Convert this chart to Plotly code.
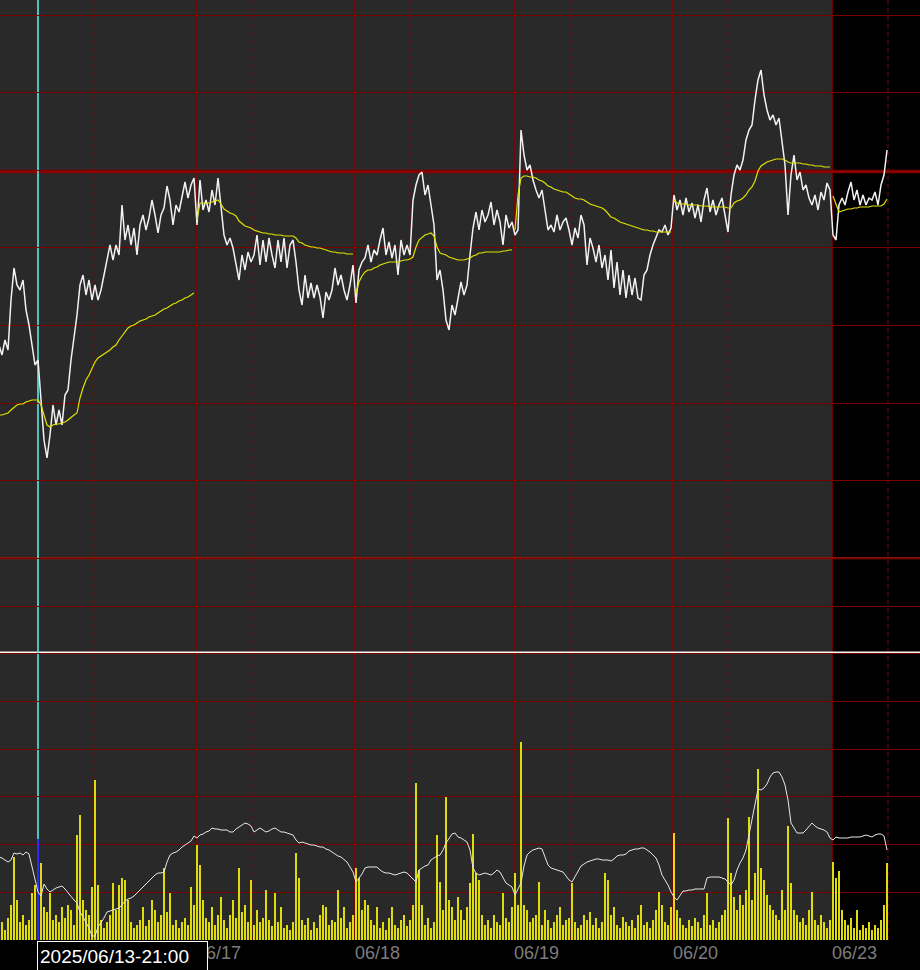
import plotly.graph_objects as go

# ---------------- data (one value per bar; bar index 0 = cursor bar) ----------------
FIRST_BAR = -13

price = [
    355, 345, 360, 350, 400, 432, 415, 410, 420, 390,
    375, 355, 335, 340, 300, 260, 242, 265, 295, 275,
    290, 275, 305, 310, 340, 360, 385, 415, 425, 405,
    420, 400, 415, 400, 410, 425, 440, 455, 440, 455,
    445, 495, 460, 475, 455, 472, 445, 475, 485, 470,
    482, 500, 485, 467, 485, 492, 514, 500, 475, 495,
    488, 505, 518, 502, 515, 522, 475, 520, 490, 500,
    488, 510, 495, 522, 490, 465, 455, 462, 452, 435,
    420, 445, 430, 448, 438, 445, 465, 435, 460, 438,
    462, 445, 432, 460, 438, 462, 432, 455, 460, 438,
    410, 395, 425, 402, 417, 402, 415, 403, 382, 408,
    400, 410, 432, 415, 425, 410, 400, 415, 435, 397,
    430, 438, 442, 455, 438, 450, 445, 460, 472, 445,
    458, 442, 455, 425, 460, 445, 455, 445, 500, 515,
    525, 528, 505, 515, 495, 475, 420, 430, 410, 380,
    370, 395, 385, 400, 418, 405, 415, 445, 472, 488,
    470, 490, 478, 485, 498, 475, 490, 478, 455, 485,
    472, 478, 465, 470, 570, 545, 530, 535, 520, 510,
    502, 510, 490, 470, 475, 468, 485, 470, 478, 482,
    470, 455, 472, 462, 485, 475, 435, 462, 452, 438,
    455, 432, 445, 420, 450, 412, 438, 405, 430, 402,
    425, 405, 422, 402, 400, 425, 430, 445, 455, 462,
    470, 468, 475, 465, 472, 505, 490, 500, 485, 502,
    488, 497, 482, 495, 478, 500, 512, 488, 500, 485,
    495, 502, 485, 468, 505, 525, 535, 530, 540, 560,
    570, 575, 600, 620, 630, 605, 590, 580, 585, 575,
    582, 560, 535, 485, 525, 545, 520, 528, 510, 515,
    502, 495, 505, 490, 508, 500, 517, 510, 465, 460,
    495, 502, 495, 508, 518, 500, 510, 495, 505, 495,
    502, 500, 508, 495, 515, 525, 550,
]

# session VWAP (resets at each session start)
vwap = [
    285, 285, 286, 287, 290, 293, 295, 296, 296, 298,
    299, 300, 300, 300, 295, 285, 275, 273, 275, 276,
    276, 277, 278, 280, 283, 285, 287, 302, 312, 320,
    325, 332, 338, 342, 344, 346, 348, 350, 353, 355,
    360, 364, 369, 372, 374, 375, 377, 379, 380, 381,
    383, 384, 385, 387, 389, 391, 392, 394, 396, 397,
    399, 400, 402, 403, 405, 407,
    480, 497, 497, 497, 497, 498, 499, 500, 496, 491,
    489, 487, 486, 484, 479, 476, 474, 473, 472, 470,
    469, 468, 467, 467, 466, 466, 465, 465, 465, 464,
    464, 464, 464, 462, 458, 457, 455, 454, 453, 453,
    452, 452, 451, 450, 449, 448, 448, 447, 447, 447,
    446, 446, 446,
    407, 418, 424, 428, 430, 430, 432, 433, 435, 436,
    437, 438, 438, 438, 438, 439, 440, 440, 441, 443,
    453, 460, 463, 465, 466, 467, 464, 453, 447, 446,
    445, 443, 442, 441, 440, 440, 440, 441, 442, 444,
    445, 447, 447, 448, 448, 448, 448, 448, 448, 449,
    449, 450, 450,
    470, 505, 522, 524, 524, 523, 523, 522, 520, 519,
    517, 514, 513, 511, 510, 509, 508, 508, 506, 504,
    502, 501, 501, 500, 498, 496, 495, 494, 493, 492,
    490, 486, 483, 482, 480, 478, 477, 476, 475, 474,
    473, 472, 471, 470, 470, 469, 469, 468, 468, 468,
    468, 468, 468,
    500, 497, 496, 496, 496, 495, 495, 495, 495, 494,
    494, 494, 493, 493, 493, 493, 493, 493, 492, 492,
    497, 499, 500, 502, 505, 510, 513, 519, 529, 534,
    536, 538, 539, 540, 541, 541, 541, 540, 538, 537,
    537, 537, 537, 536, 536, 535, 535, 534, 534, 534,
    533, 533, 533,
    504, 495, 488, 489, 490, 491, 491, 492, 492, 493,
    493, 493, 493, 494, 494, 494, 494, 496, 501,
]

volume = [
    12, 18, 10, 22, 35, 83, 40, 18, 25, 15,
    20, 47, 55, 101, 77, 33, 28, 47, 20, 25,
    18, 33, 22, 35, 30, 15, 105, 125, 40, 30,
    25, 53, 160, 55, 20, 12, 18, 25, 57, 30,
    55, 62, 60, 40, 18, 12, 15, 20, 33, 14,
    20, 40, 30, 18, 25, 72, 28, 47, 15, 20,
    12, 18, 22, 15, 53, 35, 95, 75, 40, 22,
    18, 33, 15, 25, 43, 20, 12, 25, 40, 22,
    72, 28, 35, 18, 60, 15, 30, 18, 22, 50,
    20, 14, 47, 18, 33, 12, 15, 10, 18, 87,
    62, 20, 15, 22, 10, 18, 12, 25, 35, 33,
    15, 20, 18, 50, 22, 33, 12, 18, 25, 72,
    62, 30, 40, 35, 20, 15, 33, 12, 18, 10,
    22, 33, 15, 12, 20, 25, 14, 20, 35, 157,
    70, 35, 15, 22, 12, 18, 105, 58, 30, 143,
    40, 33, 20, 43, 30, 20, 33, 57, 106, 67,
    60, 25, 15, 20, 12, 25, 18, 15, 47, 22,
    18, 33, 67, 35, 198, 35, 30, 18, 22, 25,
    58, 15, 30, 20, 12, 18, 25, 33, 15, 20,
    22, 57, 18, 12, 15, 25, 20, 28, 15, 22,
    12, 18, 67, 60, 25, 33, 15, 12, 23, 18,
    14, 20, 12, 25, 35, 15, 18, 12, 20, 30,
    48, 35, 18, 15, 33, 107, 30, 22, 15, 12,
    20, 14, 22, 18, 12, 25, 47, 15, 20, 12,
    18, 25, 30, 122, 67, 43, 30, 45, 35, 50,
    123, 40, 67, 171, 72, 60, 45, 35, 30, 25,
    20, 50, 30, 114, 57, 30, 25, 18, 22, 15,
    30, 48, 20, 15, 25, 18, 12, 20, 78, 62,
    69, 30, 20, 15, 22, 12, 30, 10, 15, 12,
    18, 10, 15, 12, 20, 35, 77,
]

volume_line = [
    83, 82, 80, 78, 80, 87, 86, 87, 85, 88,
    86, 74, 62, 48, 44, 56, 51, 48, 50, 52,
    53, 54, 51, 47, 44, 40, 37, 28, 23, 18,
    12, 4, 4, 13, 17, 22, 28, 29, 30, 31,
    32, 35, 39, 41, 42, 44, 47, 50, 53, 56,
    60, 63, 65, 67, 67, 68, 78, 85, 87, 88,
    90, 93, 95, 97, 99, 104, 102, 105, 106, 108,
    109, 112, 111, 111, 110, 110, 110, 108, 108, 111,
    113, 115, 117, 116, 114, 108, 110, 112, 110, 108,
    109, 111, 112, 110, 108, 108, 107, 106, 105, 100,
    97, 98, 97, 96, 95, 95, 94, 93, 93, 91,
    90, 88, 86, 84, 83, 80, 78, 73, 68, 58,
    62, 66, 72, 73, 73, 73, 73, 70, 68, 67,
    67, 66, 65, 66, 67, 68, 67, 64, 60, 58,
    70, 72, 74, 75, 80, 82, 84, 85, 90, 97,
    102, 106, 107, 103, 102, 100, 98, 90, 72, 67,
    65, 66, 67, 66, 65, 67, 70, 68, 63, 57,
    55, 53, 45, 51, 57, 74, 85, 88, 90, 91,
    92, 91, 82, 75, 72, 71, 70, 69, 68, 64,
    60, 58, 63, 69, 74, 76, 78, 79, 80, 81,
    81, 80, 80, 80, 79, 81, 84, 85, 85, 86,
    89, 90, 91, 91, 92, 92, 90, 88, 85, 82,
    75, 65, 60, 55, 48, 43, 40, 45, 49, 49,
    50, 50, 51, 51, 51, 51, 62, 63, 63, 63,
    63, 62, 61, 58, 55, 60, 70, 77, 82, 90,
    105, 122, 135, 151, 150, 152, 156, 163, 167, 168,
    168, 163, 155, 140, 117, 112, 107, 107, 107, 110,
    114, 117, 114, 112, 111, 110, 108, 102, 100, 103,
    102, 102, 102, 102, 103, 103, 103, 103, 104, 105,
    104, 103, 105, 106, 106, 104, 90,
]

session_starts = [53, 106, 159, 212, 265]
session_labels = ["06/17", "06/18", "06/19", "06/20", "06/23"]
midnight_marks = [18.33, 71.33, 124.33, 177.33, 230.33, 283.33]
cursor_bar = 0
cursor_label = "2025/06/13-21:00"
key_level = 528.5
support_level = 141.8
price_grid = [141.8, 219.4, 297.0, 374.6, 452.2, 529.8, 607.4, 685.0]
volume_grid = [0, 47.7, 95.4, 143.1, 190.8, 238.5, 286.2, 333.9]
volume_ref = 287.8

# ---------------- build ----------------
def bars(values):
    return [FIRST_BAR + k for k in range(len(values))]

x_price = bars(price)
x_vol = bars(volume)
x_vline = bars(volume_line)

# VWAP broken at each session start
vx, vy = [], []
for k, v in enumerate(vwap):
    b = FIRST_BAR + k
    if b in session_starts:
        vx.append(b - 0.5)
        vy.append(None)
    vx.append(b)
    vy.append(v)

bar_colors = ["#2a2aff" if b == cursor_bar else "#dedc0c" for b in x_vol]

GRID = "#7a0000"
fig = go.Figure()

fig.add_trace(go.Scatter(x=x_price, y=price, mode="lines",
                         line=dict(color="#f2f2f2", width=1.5), yaxis="y", showlegend=False))
fig.add_trace(go.Scatter(x=vx, y=vy, mode="lines", connectgaps=False,
                         line=dict(color="#e2e200", width=1.2), yaxis="y", showlegend=False))
fig.add_trace(go.Bar(x=x_vol, y=volume, marker=dict(color=bar_colors, line=dict(width=0)),
                     width=0.9, yaxis="y2", showlegend=False))
fig.add_trace(go.Scatter(x=x_vline, y=volume_line, mode="lines",
                         line=dict(color="#e6e6e6", width=1), yaxis="y2", showlegend=False))

last_session = session_starts[-1]
shapes = [
    dict(type="rect", xref="x", yref="paper", x0=last_session - 0.33, x1=400, y0=0, y1=1,
         fillcolor="#000000", line=dict(width=0), layer="below"),
]
for s in session_starts:
    shapes.append(dict(type="line", xref="x", yref="paper", x0=s - 0.33, x1=s - 0.33, y0=0, y1=1,
                       line=dict(color="#840000", width=1.5), layer="below"))
for m in midnight_marks:
    shapes.append(dict(type="line", xref="x", yref="paper", x0=m, x1=m, y0=0, y1=1,
                       line=dict(color="#8a0000", width=1, dash="4px,4px"), layer="below"))
shapes += [
    dict(type="line", xref="paper", yref="y", x0=0, x1=1, y0=key_level, y1=key_level,
         line=dict(color="#8b0000", width=3.5), layer="between"),
    dict(type="line", xref="paper", yref="y", x0=0, x1=1, y0=support_level, y1=support_level,
         line=dict(color="#b01208", width=2), layer="between"),
    dict(type="line", xref="paper", yref="y2", x0=0, x1=1, y0=volume_ref, y1=volume_ref,
         line=dict(color="#f4f4f4", width=1.5), layer="between"),
    dict(type="line", xref="x", yref="paper", x0=cursor_bar, x1=cursor_bar, y0=0, y1=1,
         line=dict(color="#5cf4f4", width=1.5), layer="between"),
]

fig.update_layout(
    width=920, height=970,
    margin=dict(l=0, r=0, t=0, b=30, pad=0),
    paper_bgcolor="#000000",
    plot_bgcolor="#292929",
    bargap=0,
    shapes=shapes,
    xaxis=dict(
        range=[-38 / 3, 882 / 3],
        tickmode="array", tickvals=[s - 0.33 for s in session_starts], ticktext=session_labels,
        showgrid=False,
        ticks="", zeroline=False, showline=False,
        ticklabelposition="outside right",
        tickfont=dict(family="Liberation Sans", size=18, color="#7c7c7c"),
    ),
    yaxis=dict(
        domain=[0, 1], range=[-240, 700],
        tickmode="array", tickvals=price_grid,
        showgrid=True, gridcolor=GRID, gridwidth=1,
        showticklabels=False, zeroline=False, ticks="",
    ),
    yaxis2=dict(
        overlaying="y", side="right", range=[0, 940],
        tickmode="array", tickvals=volume_grid,
        showgrid=True, gridcolor=GRID, gridwidth=1,
        showticklabels=False, zeroline=False, ticks="",
    ),
    annotations=[dict(
        x=cursor_bar, xref="x", xanchor="left", xshift=-1,
        y=0, yref="paper", yanchor="top", yshift=-1,
        text=cursor_label, showarrow=False, align="left",
        width=165, height=25, borderpad=2, borderwidth=1,
        bordercolor="#ffffff", bgcolor="#000000",
        font=dict(family="Liberation Sans", size=19, color="#ffffff"),
    )],
)

fig.write_html(
    "out.html",
    config={"displayModeBar": False},
    post_script="document.body.style.margin='0';document.body.style.background='#000';",
)
